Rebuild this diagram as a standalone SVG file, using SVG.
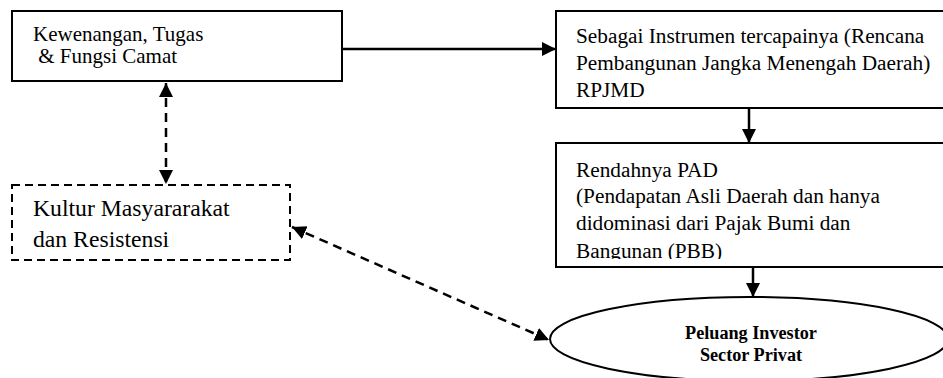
<svg xmlns="http://www.w3.org/2000/svg" width="943" height="378" viewBox="0 0 943 378">
<style>
.box{fill:#fff;stroke:#000;stroke-width:2}
.dbox{fill:#fff;stroke:#000;stroke-width:2;stroke-dasharray:8 5}
text{font-family:'Liberation Serif','Times New Roman',serif;fill:#000}
.b{font-weight:bold;text-anchor:middle}
.c{fill:none;stroke:#000;stroke-width:2.5}
.d{stroke-dasharray:9 6}
</style>
<defs>
<marker id="ah" markerUnits="userSpaceOnUse" markerWidth="16" markerHeight="16" refX="14" refY="7" orient="auto-start-reverse" viewBox="0 0 16 14">
<path d="M0,0 L14,7 L0,14 z" fill="#000"/>
</marker>
<clipPath id="clip3"><rect x="556" y="143" width="387" height="116"/></clipPath>
</defs>
<g id="connectors">
<line class="c" x1="342" y1="49" x2="556" y2="49" marker-end="url(#ah)"/>
<line class="c" x1="749" y1="109" x2="749" y2="143" marker-end="url(#ah)"/>
<line class="c" x1="753" y1="268" x2="753" y2="297" marker-end="url(#ah)"/>
<line class="c d" x1="166" y1="83" x2="166" y2="184" marker-start="url(#ah)" marker-end="url(#ah)"/>
<line class="c d" x1="292" y1="227" x2="549" y2="340" marker-start="url(#ah)" marker-end="url(#ah)"/>
</g>
<g id="node-kewenangan">
<rect class="box" x="12" y="11" width="330" height="70"/>
<text font-size="21" x="33" y="41">Kewenangan, Tugas</text>
<text font-size="21" x="33" y="63" xml:space="preserve"> &amp; Fungsi Camat</text>
</g>
<g id="node-instrumen">
<rect class="box" x="556" y="11" width="392" height="97"/>
<text font-size="21.3" x="576" y="43">Sebagai Instrumen tercapainya (Rencana</text>
<text font-size="21.3" x="576" y="70">Pembangunan Jangka Menengah Daerah)</text>
<text font-size="21.3" x="576" y="97">RPJMD</text>
</g>
<g id="node-pad">
<rect class="box" x="556" y="143" width="392" height="124"/>
<g clip-path="url(#clip3)">
<text font-size="21.3" x="576" y="177">Rendahnya PAD</text>
<text font-size="21.3" x="576" y="203">(Pendapatan Asli Daerah dan hanya</text>
<text font-size="21.3" x="576" y="230">didominasi dari Pajak Bumi dan</text>
<text font-size="21.3" x="576" y="258">Bangunan (PBB)</text>
</g>
</g>
<g id="node-kultur">
<rect class="dbox" x="12" y="185" width="278" height="75"/>
<text font-size="23.7" x="33" y="216">Kultur Masyararakat</text>
<text font-size="23.7" x="33" y="247">dan Resistensi</text>
</g>
<g id="node-peluang">
<ellipse class="box" cx="749" cy="339" rx="199" ry="42"/>
<text class="b" font-size="18.2" x="751" y="339">Peluang Investor</text>
<text class="b" font-size="18.2" x="751" y="361">Sector Privat</text>
</g>
</svg>
